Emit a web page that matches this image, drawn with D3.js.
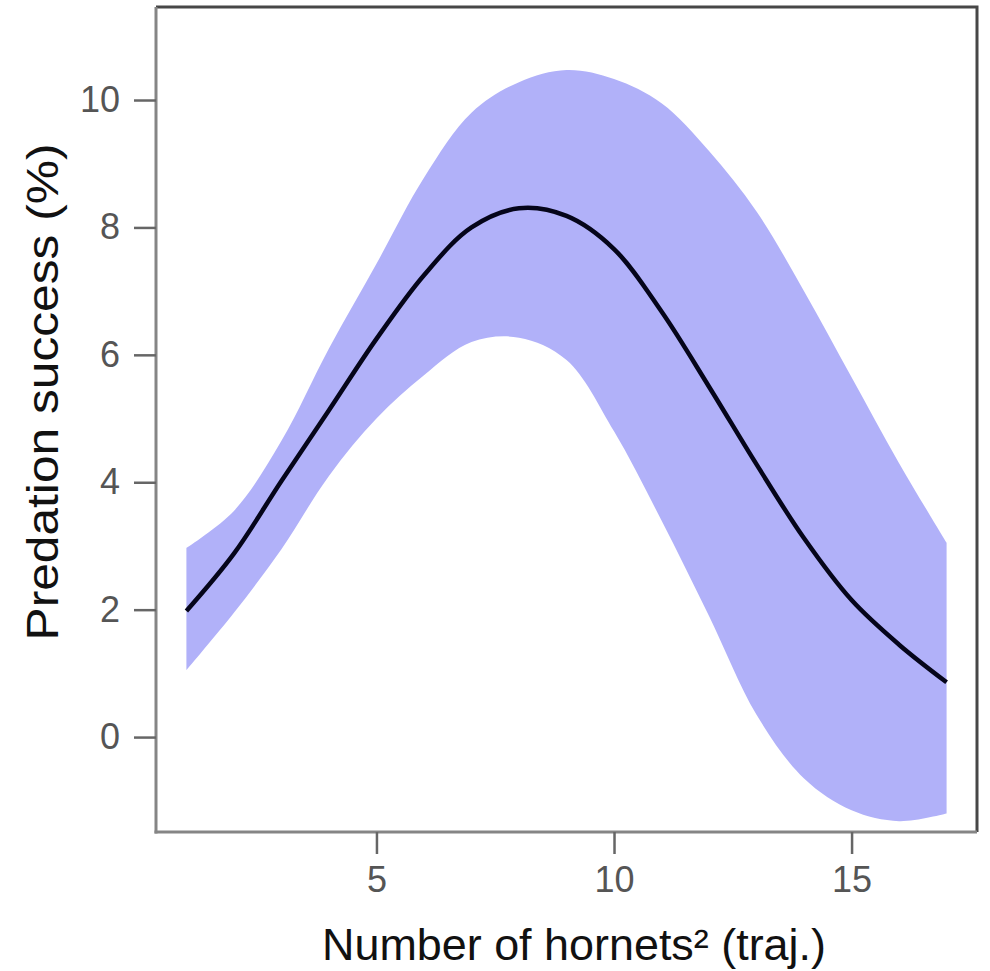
<!DOCTYPE html>
<html>
<head>
<meta charset="utf-8">
<script src="https://cdn.jsdelivr.net/npm/d3@7"></script>
<style>
  body { margin: 0; background: #fff; }
  text { font-family: "Liberation Sans", Arial, sans-serif; }
  .tick-label { fill: #555; font-size: 36px; }
  .axis-title { fill: #111; font-size: 44px; }
</style>
</head>
<body>
<div id="chart"></div>
<script>
// hornets (x) and predicted predation success with its confidence band
var hornets = [1, 2, 3, 4, 5, 6, 7, 8, 9, 10, 11, 12, 13, 14, 15, 16, 17];
var fitted  = [1.98, 2.88, 4.02, 5.13, 6.25, 7.25, 8.0, 8.3, 8.18, 7.66, 6.68, 5.5, 4.28, 3.12, 2.15, 1.45, 0.86];
var upper   = [2.97, 3.55, 4.65, 6.1, 7.43, 8.78, 9.8, 10.28, 10.47, 10.33, 9.95, 9.2, 8.25, 7.0, 5.65, 4.3, 3.05];
var lower   = [1.05, 1.95, 2.95, 4.1, 5.0, 5.68, 6.2, 6.27, 5.92, 4.8, 3.4, 1.9, 0.35, -0.65, -1.15, -1.32, -1.2];

var xTicks = [5, 10, 15];
var yTicks = [0, 2, 4, 6, 8, 10];

var W = 990, H = 971;
var m = { left: 156, right: 977, top: 7, bottom: 832 };

var svg = d3.select("#chart")
  .append("svg")
    .attr("width", W)
    .attr("height", H);

var x = d3.scaleLinear().domain([0.36, 17.64]).range([m.left, m.right]);
var y = d3.scaleLinear().domain([-1.49, 11.46]).range([m.bottom, m.top]);

var rows = hornets.map(function(h, i) {
  return { h: h, fit: fitted[i], hi: upper[i], lo: lower[i] };
});

var smooth = d3.curveCatmullRom.alpha(0.5);

// band
svg.append("path")
    .datum(rows)
    .attr("fill", "#b1b1f9")
    .attr("d", d3.area()
      .x(function(d) { return x(d.h); })
      .y0(function(d) { return y(d.lo); })
      .y1(function(d) { return y(d.hi); })
      .curve(smooth));

// fitted line
svg.append("path")
    .datum(rows)
    .attr("fill", "none")
    .attr("stroke", "#05051a")
    .attr("stroke-width", 4.5)
    .attr("d", d3.line()
      .x(function(d) { return x(d.h); })
      .y(function(d) { return y(d.fit); })
      .curve(smooth));

// box: top/right dark, left/bottom drawn by the axes
svg.append("path")
    .attr("fill", "none")
    .attr("stroke", "#474747")
    .attr("stroke-width", 3)
    .attr("d", "M" + m.left + "," + m.top + "H" + m.right + "V" + m.bottom);

var xAxis = svg.append("g")
    .attr("transform", "translate(0," + m.bottom + ")")
    .call(d3.axisBottom(x).tickValues(xTicks).tickSize(22).tickPadding(12).tickSizeOuter(0));

var yAxis = svg.append("g")
    .attr("transform", "translate(" + m.left + ",0)")
    .call(d3.axisLeft(y).tickValues(yTicks).tickSize(22).tickPadding(14).tickSizeOuter(0));

[xAxis, yAxis].forEach(function(g) {
  g.select(".domain").attr("stroke", "#858585").attr("stroke-width", 3);
  g.selectAll(".tick line").attr("stroke", "#666").attr("stroke-width", 2.5);
  g.selectAll(".tick text")
    .attr("class", "tick-label")
    .attr("fill", "#555")
    .style("font-size", "36px");
});
// extend domains so the box corners close
xAxis.select(".domain").attr("d", "M" + (m.left - 1.5) + ",0H" + m.right);
yAxis.select(".domain").attr("d", "M0," + m.top + "V" + (m.bottom + 1.5));

// titles
svg.append("text")
    .attr("class", "axis-title")
    .attr("x", 574)
    .attr("y", 960)
    .attr("text-anchor", "middle")
    .attr("textLength", 504)
    .attr("lengthAdjust", "spacingAndGlyphs")
    .text("Number of hornets² (traj.)");

svg.append("text")
    .attr("class", "axis-title")
    .attr("transform", "translate(58,392) rotate(-90)")
    .attr("text-anchor", "middle")
    .attr("textLength", 497)
    .attr("lengthAdjust", "spacingAndGlyphs")
    .text("Predation success (%)");
</script>
</body>
</html>
